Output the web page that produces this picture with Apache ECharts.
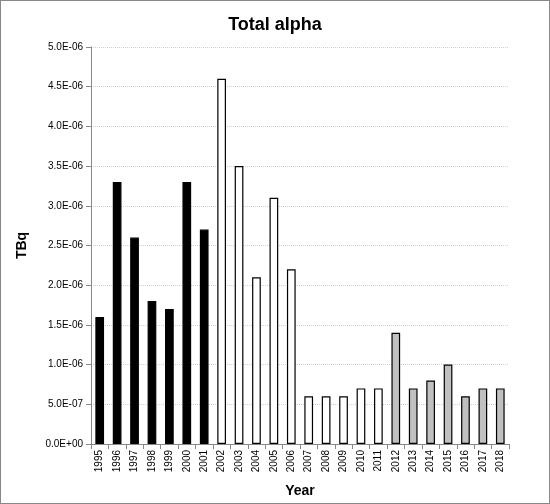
<!DOCTYPE html><html><head><meta charset="utf-8"><script src="https://cdn.jsdelivr.net/npm/echarts@6/dist/echarts.min.js"></script>
<style>html,body{margin:0;padding:0;background:#fff}#c{width:550px;height:504px;box-sizing:border-box;border:1px solid #888}</style></head><body><div id="c"></div><script>
const years=['1995','1996','1997','1998','1999','2000','2001','2002','2003','2004','2005','2006','2007','2008','2009','2010','2011','2012','2013','2014','2015','2016','2017','2018'];
const values=[1.6e-6,3.3e-6,2.6e-6,1.8e-6,1.7e-6,3.3e-6,2.7e-6,4.6e-6,3.5e-6,2.1e-6,3.1e-6,2.2e-6,6e-7,6e-7,6e-7,7e-7,7e-7,1.4e-6,7e-7,8e-7,1.0e-6,6e-7,7e-7,7e-7];
const fills=['#000000','#000000','#000000','#000000','#000000','#000000','#000000','#ffffff','#ffffff','#ffffff','#ffffff','#ffffff','#ffffff','#ffffff','#ffffff','#ffffff','#ffffff','#c0c0c0','#c0c0c0','#c0c0c0','#c0c0c0','#c0c0c0','#c0c0c0','#c0c0c0'];
const F='Liberation Sans';
const ch=echarts.init(document.getElementById('c'));
ch.setOption({animation:false,
title:{text:'Total alpha',left:'center',top:10,textStyle:{fontFamily:F,fontSize:18,fontWeight:'bold',color:'#000'}},
grid:{left:90,right:40,top:46,bottom:58},
xAxis:{type:'category',data:years,name:'Year',nameLocation:'middle',nameGap:40,nameTextStyle:{fontFamily:F,fontWeight:'bold',fontSize:14,color:'#000'},
axisLine:{lineStyle:{color:'#888'}},axisTick:{show:true,interval:0,lineStyle:{color:'#888'}},axisLabel:{rotate:90,interval:0,fontFamily:F,fontSize:10,color:'#000',margin:6}},
yAxis:{type:'value',min:0,max:5e-6,interval:5e-7,name:'TBq',nameLocation:'middle',nameGap:62,nameTextStyle:{fontFamily:F,fontWeight:'bold',fontSize:14,color:'#000'},
axisLine:{show:true,lineStyle:{color:'#888'}},axisTick:{show:true,lineStyle:{color:'#888'}},
axisLabel:{fontFamily:F,fontSize:10,color:'#000',formatter:v=>{if(v===0)return '0.0E+00';const e=Math.floor(Math.log10(v)+1e-9);const m=v/Math.pow(10,e);return m.toFixed(1)+'E-'+String(-e).padStart(2,'0');}},
splitLine:{lineStyle:{color:'#d0d0d0',type:'dotted'}}},
series:[{type:'bar',barWidth:'50%',data:values.map((v,i)=>({value:v,itemStyle:{color:fills[i],borderColor:'#000',borderWidth:1.2}}))}]
});
</script></body></html>
